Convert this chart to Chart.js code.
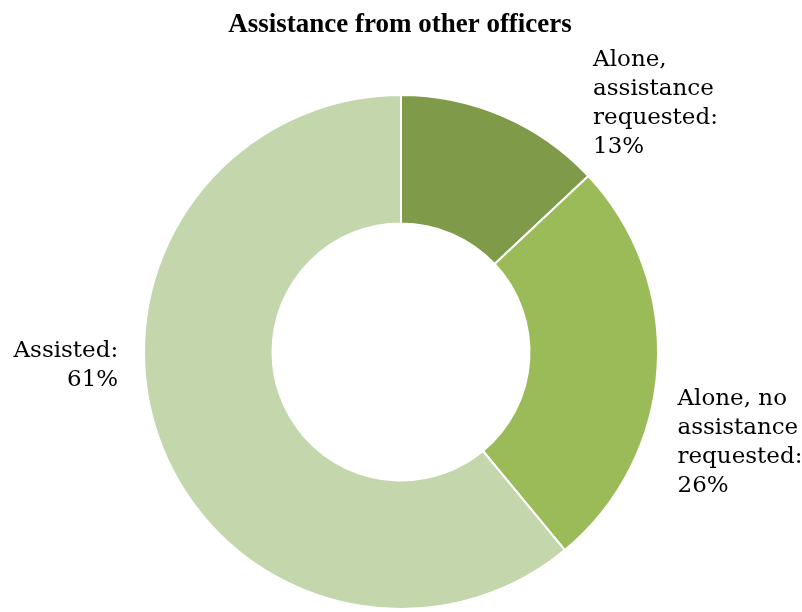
<!DOCTYPE html>
<html>
<head>
<meta charset="utf-8">
<script src="https://cdn.jsdelivr.net/npm/chart.js@4/dist/chart.umd.min.js"></script>
<style>
html,body{margin:0;padding:0;background:#fff;}
#wrap{width:802px;height:612px;position:relative;}
</style>
</head>
<body>
<div id="wrap"><canvas id="c" width="802" height="612"></canvas></div>
<script>
const chartTitle = 'Assistance from other officers';
const categories = ['Alone, assistance requested', 'Alone, no assistance requested', 'Assisted'];
const values = [13, 26, 61];
const labelLines = [
  ['Alone,', 'assistance', 'requested:', '13%'],
  ['Alone, no', 'assistance', 'requested:', '26%'],
  ['Assisted:', '61%']
];
const colors = ['#7f9a48', '#9bbb59', '#c4d6ab'];

const FONT = '"DejaVu Serif", serif';

const outsideLabels = {
  id: 'outsideLabels',
  afterDatasetsDraw(chart, args, opts) {
    const ctx = chart.ctx;
    const meta = chart.getDatasetMeta(0);
    ctx.save();
    ctx.fillStyle = '#000';
    ctx.font = opts.font;
    ctx.textBaseline = 'alphabetic';
    meta.data.forEach((arc, i) => {
      const mid = (arc.startAngle + arc.endAngle) / 2;
      const ax = arc.x + Math.cos(mid) * arc.outerRadius;
      const ay = arc.y + Math.sin(mid) * arc.outerRadius;
      const p = opts.place[i];
      ctx.textAlign = p.align;
      labelLines[i].forEach((ln, k) => {
        ctx.fillText(ln, ax + p.dx, ay + p.dy + k * opts.lineHeight);
      });
    });
    // title
    ctx.font = opts.titleFont;
    ctx.textAlign = 'center';
    ctx.fillText(chartTitle, opts.titleX, opts.titleY);
    ctx.restore();
  }
};

new Chart(document.getElementById('c'), {
  type: 'doughnut',
  data: {
    labels: categories,
    datasets: [{
      data: values,
      backgroundColor: colors,
      borderColor: '#ffffff',
      borderWidth: 2,
      borderAlign: 'center'
    }]
  },
  options: {
    responsive: false,
    animation: false,
    cutout: '50%',
    layout: { padding: { top: 94, bottom: 2, left: 0, right: 0 } },
    plugins: {
      legend: { display: false },
      tooltip: { enabled: false },
      title: { display: false },
      outsideLabels: {
        font: '23px ' + FONT,
        titleFont: 'bold 27px "Liberation Serif", serif',
        titleX: 400,
        titleY: 32,
        lineHeight: 29,
        place: [
          { dx: 90, dy: -50, align: 'left' },
          { dx: 20, dy: 37, align: 'left' },
          { dx: -41, dy: -82, align: 'right' }
        ]
      }
    }
  },
  plugins: [outsideLabels]
});
</script>
</body>
</html>
